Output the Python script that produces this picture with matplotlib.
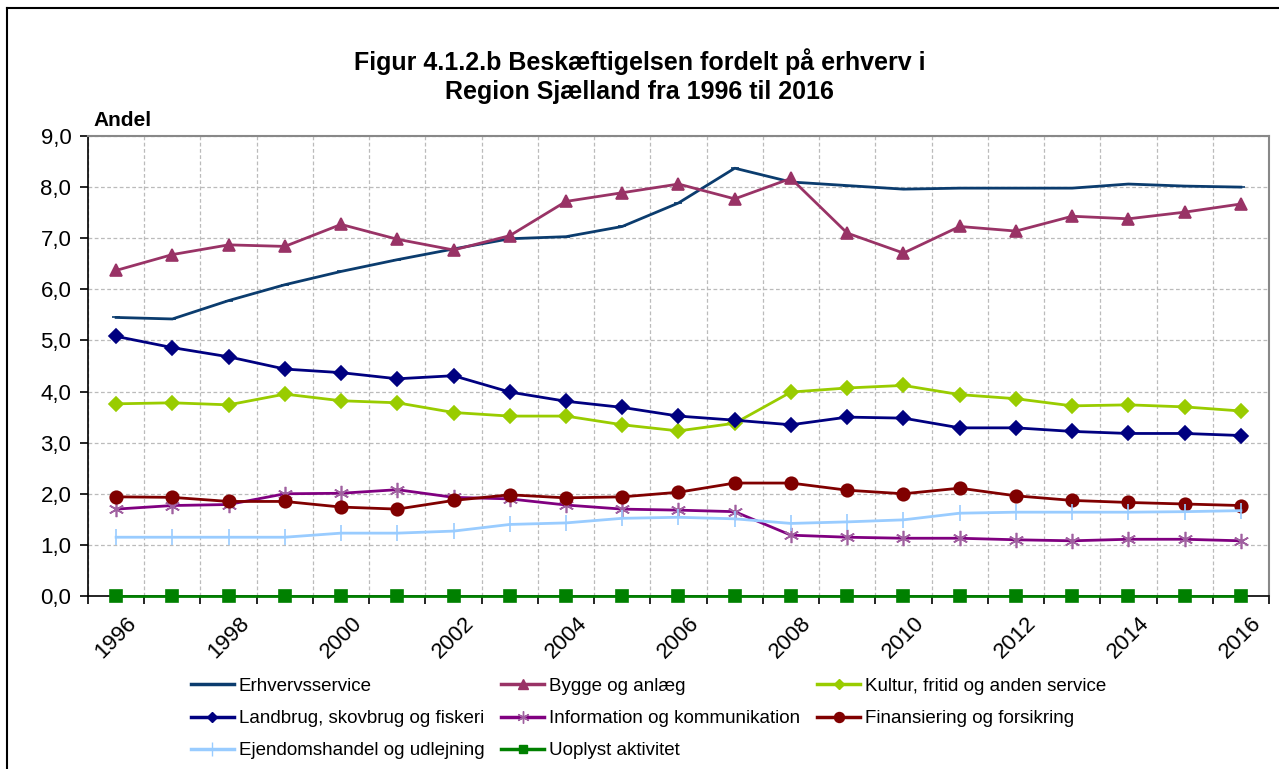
import numpy as np
import matplotlib
matplotlib.use("Agg")
import matplotlib.pyplot as plt
from matplotlib.lines import Line2D

plt.rcParams['font.family'] = ['Liberation Sans', 'DejaVu Sans']

years = list(range(1996, 2017))

erhvervsservice = [5.45, 5.42, 5.78, 6.09, 6.35, 6.58, 6.79, 6.99, 7.03, 7.23, 7.69,
                   8.37, 8.10, 8.03, 7.96, 7.98, 7.98, 7.98, 8.06, 8.02, 8.00]
bygge = [6.37, 6.68, 6.87, 6.84, 7.27, 6.98, 6.77, 7.05, 7.72, 7.89, 8.06,
         7.77, 8.17, 7.10, 6.71, 7.23, 7.14, 7.43, 7.38, 7.51, 7.67]
kultur = [3.76, 3.78, 3.74, 3.95, 3.82, 3.78, 3.59, 3.52, 3.52, 3.35, 3.23,
          3.38, 3.99, 4.07, 4.12, 3.94, 3.86, 3.72, 3.74, 3.70, 3.62]
landbrug = [5.08, 4.86, 4.68, 4.44, 4.37, 4.25, 4.31, 3.99, 3.81, 3.69, 3.52,
            3.44, 3.35, 3.50, 3.48, 3.29, 3.29, 3.22, 3.18, 3.18, 3.14]
information = [1.70, 1.77, 1.79, 2.00, 2.01, 2.08, 1.93, 1.90, 1.78, 1.70, 1.68,
               1.65, 1.19, 1.15, 1.13, 1.13, 1.10, 1.08, 1.11, 1.11, 1.08]
finansiering = [1.94, 1.93, 1.85, 1.85, 1.74, 1.70, 1.87, 1.98, 1.92, 1.94, 2.03,
                2.21, 2.21, 2.07, 2.00, 2.11, 1.96, 1.87, 1.83, 1.80, 1.77]
ejendom = [1.15, 1.15, 1.15, 1.15, 1.23, 1.23, 1.27, 1.40, 1.43, 1.52, 1.54,
           1.51, 1.42, 1.45, 1.49, 1.62, 1.64, 1.64, 1.64, 1.65, 1.67]
uoplyst = [0.0] * 21

# (label, values, color, marker, markersize, mec)
series = [
    ("Erhvervsservice", erhvervsservice, "#0B3C6E", "_", 6, None),
    ("Bygge og anlæg", bygge, "#993366", "^", 9, None),
    ("Kultur, fritid og anden service", kultur, "#99CC00", "D", 7, None),
    ("Landbrug, skovbrug og fiskeri", landbrug, "#000080", "D", 7, None),
    ("Information og kommunikation", information, "#800080", (6, 2, 0), 11, "#A060A0"),
    ("Finansiering og forsikring", finansiering, "#800000", "o", 9, None),
    ("Ejendomshandel og udlejning", ejendom, "#99CCFF", "|", 12, None),
    ("Uoplyst aktivitet", uoplyst, "#008000", "s", 8, None),
]

fig = plt.figure(figsize=(12.79, 7.69), dpi=100)
ax = fig.add_axes([88 / 1279, 1 - 596 / 769, (1269 - 88) / 1279, (596 - 136) / 769])

x = np.arange(len(years))
handles = []
for label, vals, col, mk, ms, mec in series:
    ax.plot(x, vals, color=col, lw=2, marker=mk, markersize=ms,
            markerfacecolor=col, markeredgecolor=mec or col,
            markeredgewidth=1.2, clip_on=False, zorder=3)
    handles.append(Line2D([0], [0], color=col, lw=2.5, marker=mk,
                          markersize=ms * 0.8, markerfacecolor=col,
                          markeredgecolor=mec or col, label=label))

ax.set_xlim(-0.5, len(years) - 0.5)
ax.set_ylim(0, 9)
ax.set_yticks(np.arange(0, 9.5, 1.0))
ax.set_yticklabels([f"{v:.1f}".replace(".", ",") for v in np.arange(0, 9.5, 1.0)],
                   fontsize=16)
ax.set_xticks(np.arange(-0.5, len(years), 1.0), minor=False)
ax.set_xticklabels([])
ax.set_xticks(x[::2], minor=True)
ax.set_xticklabels([str(y) for y in years[::2]], minor=True, rotation=45,
                   fontsize=16, ha="center", va="top")
ax.tick_params(axis="x", which="minor", length=0, pad=12)
ax.tick_params(axis="x", which="major", length=6, width=1.2, direction="out")
ax.tick_params(axis="y", length=6, width=1.2, direction="out", pad=6)

ax.grid(True, which="major", color="#BBBBBB", linestyle=(0, (3, 2)), lw=0.9)
ax.set_axisbelow(True)
for s in ["top", "right"]:
    ax.spines[s].set_color("#888888")
    ax.spines[s].set_linewidth(1.5)
for s in ["left", "bottom"]:
    ax.spines[s].set_color("black")
    ax.spines[s].set_linewidth(1.2)

fig.text(0.5, 1 - 62 / 769, "Figur 4.1.2.b Beskæftigelsen fordelt på erhverv i",
         ha="center", va="center", fontsize=18, fontweight="bold")
fig.text(0.5, 1 - 92 / 769, "Region Sjælland fra 1996 til 2016",
         ha="center", va="center", fontsize=18, fontweight="bold")
fig.text(93 / 1279, 1 - 120 / 769, "Andel", ha="left", va="center",
         fontsize=15, fontweight="bold")

# legend is filled row by row in the reference
order = [0, 3, 6, 1, 4, 7, 2, 5]
fig.legend(handles=[handles[i] for i in order], loc="upper left",
           bbox_to_anchor=(174 / 1279, 1 - 661 / 769),
           ncol=3, frameon=False, fontsize=13.5, handlelength=2.3, handletextpad=0.25,
           columnspacing=0.9, labelspacing=0.8)

# outer frame (left and top edges)
fig.add_artist(Line2D([6.5 / 1279, 6.5 / 1279], [0, 1 - 8 / 769], color="black", lw=1.5))
fig.add_artist(Line2D([6.5 / 1279, 1], [1 - 8 / 769, 1 - 8 / 769], color="black", lw=1.5))

fig.savefig("out.png", dpi=100)
